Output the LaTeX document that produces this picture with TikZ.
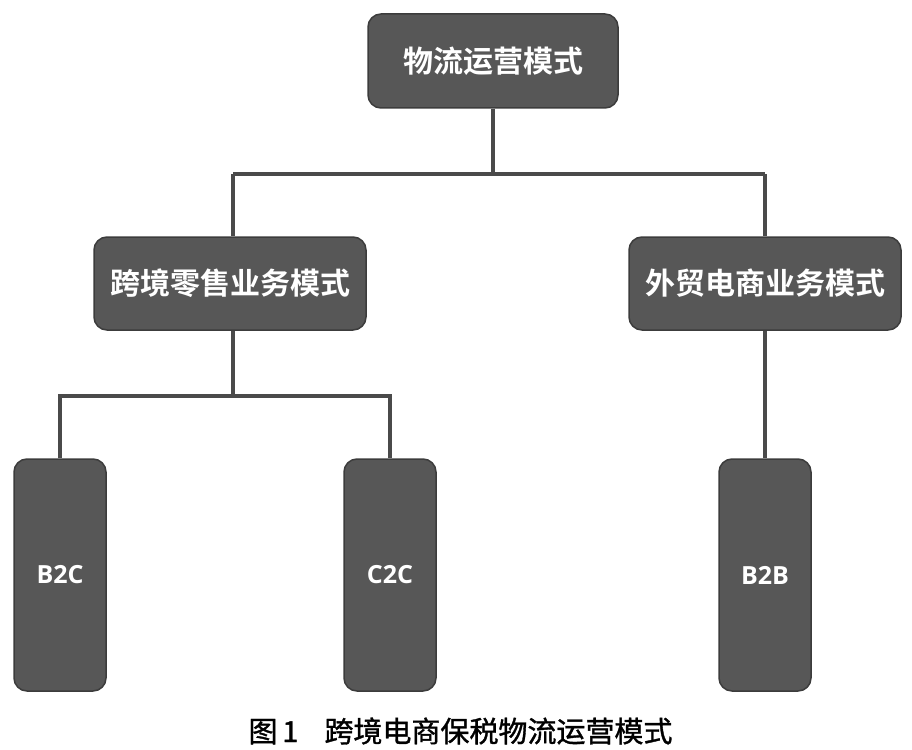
\documentclass[tikz,border=0pt]{standalone}
\usepackage{fontspec}
\newfontfamily\cjk[FakeBold=1.2]{Noto Sans CJK SC}
\newfontfamily\cjkb{Noto Sans CJK SC Bold}
\newfontfamily\latb{Open Sans}
\definecolor{boxfill}{HTML}{575757}
\definecolor{boxline}{HTML}{3C3C3C}
\definecolor{conn}{HTML}{4A4A4A}
\begin{document}
\begin{tikzpicture}[x=1pt,y=-1pt,
  box/.style={draw=boxline, line width=1.5pt, fill=boxfill, rounded corners=13pt, text=white, inner sep=0pt},
  wide/.style={box, minimum width=250pt, minimum height=94pt, font=\cjkb\fontsize{30}{32}\selectfont},
  mid/.style={box, minimum width=272pt, minimum height=93pt, font=\cjkb\fontsize{30}{32}\selectfont},
  tall/.style={box, minimum width=92pt, minimum height=232pt, font=\latb\bfseries\fontsize{25}{27}\selectfont},
  link/.style={draw=conn, line width=4.5pt}]
\useasboundingbox (0,0) rectangle (912,749);
\fill[white] (0,0) rectangle (912,749);
\coordinate (j1) at (493,174);
\coordinate (j2) at (233,396);
\coordinate (jl) at (233,174);
\coordinate (jr) at (765,174);
\coordinate (kl) at (60,396);
\coordinate (kr) at (390,396);
\node[wide] (top) at (493,61) {物流运营模式};
\node[mid] (cb) at (230,283.5) {跨境零售业务模式};
\node[mid] (ft) at (765,283.5) {外贸电商业务模式};
\node[tall] (b2c) at (60,575) {B2C};
\node[tall] (c2c) at (390,575) {C2C};
\node[tall] (b2b) at (765,575) {B2B};
\draw[link] (top.south -| j1) -- (j1);
\draw[link] (jl) -- (jr);
\draw[link] (jl) -- (cb.north -| jl);
\draw[link] (jr) -- (ft.north);
\draw[link] (cb.south -| j2) -- (j2);
\draw[link] (b2c.north) -- (kl) -- (kr) -- (c2c.north);
\draw[link] (ft.south) -- (b2b.north);
\node[font=\cjk\fontsize{29}{31}\selectfont, anchor=west] (cap) at (245,731) {图\,1\hspace{26pt}跨境电商保税物流运营模式};
\end{tikzpicture}
\end{document}
